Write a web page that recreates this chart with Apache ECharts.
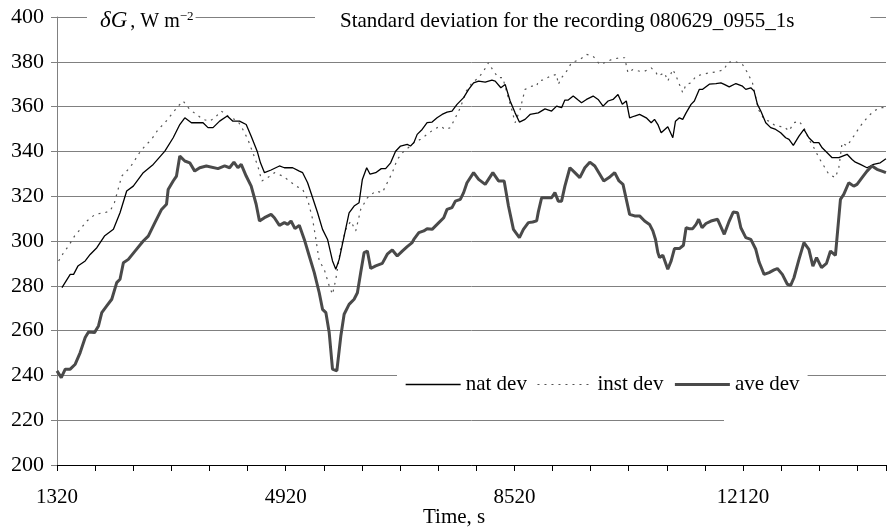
<!DOCTYPE html>
<html><head><meta charset="utf-8">
<script src="https://cdn.jsdelivr.net/npm/echarts@6/dist/echarts.min.js"></script>
<style>html,body{margin:0;padding:0;background:#fff}#c{width:889px;height:528px}</style>
</head><body><div id="c"></div>
<script>
var xTickLabels = [1320, 4920, 8520, 12120];
var yTicks = [200,220,240,260,280,300,320,340,360,380,400];
var seriesNames = ['nat dev', 'inst dev', 'ave dev'];

var natT = [1398,1528,1581,1649,1764,1842,1947,2067,2208,2312,2417,2521,2678,2835,3018,3149,3253,
3332,3436,3619,3697,3776,3880,4000,4089,4194,4298,4377,4471,4523,4586,4690,4821,4899,5030,5134,
5187,5265,5344,5422,5500,5579,5657,5709,5762,5840,5918,5997,6075,6127,6195,6248,6337,6425,6493,6572,6650,6728,6833,6885,
6937,6990,7068,7146,7225,7303,7382,7460,7538,7617,7721,7800,7878,7957,8061,8166,8218,8307,8375,8453,8531,8599,8688,8767,8897,
9002,9106,9185,9263,9315,9368,9446,9524,9577,9655,9760,9838,9916,9995,10073,10151,10219,10282,10334,10413,10491,10596,10674,10726,10779,
10831,10935,11014,11056,11118,11170,11223,11301,11353,11432,11484,11589,11693,11771,11824,11902,12007,12111,12163,12242,12294,12346,12399,12477,12555,
12634,12712,12791,12843,12911,13000,13078,13156,13235,13313,13365,13444,13522,13627,13757,13836,13888,13966,14071,14175,14280,14369];
var natV = [279.2,285.1,285.1,288.8,291.1,294.0,297.0,302.2,305.2,312.6,322.3,324.5,330.5,334.2,340.1,346.1,352.0,
355.0,352.8,352.8,350.6,350.6,353.5,355.8,353.5,353.5,352.0,346.8,340.1,334.9,330.5,331.7,333.5,332.7,332.7,331.2,
330.5,326.0,319.3,312.6,305.2,300.7,291.1,287.4,291.8,302.2,312.6,315.6,317.1,327.5,332.7,329.8,330.5,332.3,332.3,334.9,340.1,342.4,343.1,342.4,
343.9,347.6,349.8,352.8,353.1,355.0,356.5,357.5,358.0,361.0,364.0,367.7,370.6,371.4,370.9,371.8,371.4,368.4,369.9,362.5,357.2,353.1,354.3,356.5,357.2,
359.0,358.0,360.2,359.5,362.9,362.9,364.7,362.9,361.7,363.2,364.7,363.2,360.2,362.5,363.2,365.4,361.0,362.5,355.0,355.8,356.5,355.0,352.8,354.3,352.0,
348.3,351.0,346.1,353.5,355.0,354.3,357.2,361.0,362.5,367.7,367.7,370.0,370.3,370.6,369.9,368.8,370.3,369.1,367.7,368.4,366.9,361.0,358.0,352.8,350.6,
349.8,348.3,346.1,345.4,342.7,346.8,349.8,346.1,343.9,343.9,341.6,339.4,337.2,337.2,338.7,336.4,335.2,334.2,332.7,334.2,334.9,336.7];

var instT = [1346,1424,1502,1596,1685,1790,1920,2067,2156,2224,2260,2339,2443,2521,2600,2704,2809,2913,3018,3122,3227,
3305,3410,3514,3619,3723,3802,3906,4011,4168,4246,4324,4403,4481,4544,4638,4743,4873,4978,5082,
5187,5265,5344,5396,5448,5526,5605,5657,5709,5788,5866,5945,6023,6101,6206,6337,6441,6519,6598,6676,6781,6885,
6937,7042,7146,7251,7356,7434,7512,7591,7669,7763,7852,7957,8035,8113,8192,8270,8338,8401,8479,8531,8610,8688,8793,8871,
8897,9002,9080,9185,9211,9263,9342,9420,9550,9655,9760,9864,9942,10047,10178,10256,10308,10387,10491,10570,10674,10752,
10779,10883,10935,11014,11066,11118,11170,11223,11301,11380,11484,11589,11719,11824,11876,11981,12111,12190,12268,12362,12451,12529,12634,
12764,12843,12921,13000,13078,13156,13235,13313,13392,13470,13574,13627,13679,13757,13862,13966,14071,14175,14280,14369];
var instV = [291.1,294.8,297.8,302.2,305.2,308.9,311.9,312.6,313.4,317.1,320.8,329.0,332.0,334.9,338.7,342.4,345.4,349.8,352.8,356.5,360.2,
362.5,358.7,356.5,354.3,353.5,355.0,358.0,355.8,353.5,349.8,345.4,339.4,333.5,326.8,328.3,330.5,329.0,326.8,324.5,
323.0,318.6,309.7,300.7,291.1,287.4,280.0,276.2,282.9,297.0,305.2,308.9,304.5,314.1,319.3,322.3,321.6,326.0,330.5,336.4,340.1,342.4,
343.9,345.4,347.6,349.8,351.3,349.8,350.6,355.0,359.5,366.9,370.6,372.9,375.8,379.6,375.8,372.9,372.9,366.2,358.7,352.8,358.7,367.7,369.1,369.1,
371.4,372.1,373.6,374.4,369.9,372.9,375.8,379.6,381.0,383.3,382.5,378.8,379.6,381.0,381.8,381.8,375.1,376.6,375.8,375.8,377.3,375.1,
373.6,375.1,371.4,376.6,373.6,369.9,366.2,369.9,370.6,373.6,374.4,375.1,375.6,376.6,379.6,380.3,378.8,375.1,370.6,358.7,354.3,353.5,351.3,
351.0,349.1,352.8,353.5,350.6,345.4,341.6,337.2,333.5,329.8,328.3,332.7,343.9,342.4,346.8,351.3,355.0,358.0,359.5,359.5];

var aveT = [1320,1387,1450,1528,1607,1685,1764,1816,1910,1973,2025,2103,2182,2260,2312,2365,2443,2548,2678,2757,2861,2966,3044,3070,3149,3201,3253,
3332,3410,3488,3567,3671,3854,3959,4037,4105,4168,4220,4298,4377,4455,4507,4586,4690,4742,4821,4899,4951,5004,5066,5134,
5213,5291,5370,5448,5500,5553,5605,5657,5725,5788,5840,5918,5997,6049,6101,6154,6206,6258,6337,6441,6519,6598,6676,6755,6833,6911,
6937,7016,7094,7146,7225,7303,7408,7460,7538,7591,7669,7721,7774,7878,7957,8061,8181,8270,8359,8427,8505,8599,8662,8740,8808,8871,8897,
8949,9028,9106,9158,9211,9263,9315,9394,9472,9550,9629,9707,9786,9864,9927,10010,10099,10167,10230,10282,10334,10413,10491,10570,10648,10700,10742,10779,
10805,10857,10935,10988,11040,11118,11181,11223,11275,11327,11380,11421,11474,11536,11615,11719,11824,11902,11965,12033,12085,12163,12242,12320,12372,12451,12529,12608,12660,
12738,12817,12869,12921,13000,13078,13156,13219,13277,13355,13433,13496,13574,13653,13705,13784,13862,13914,13993,14071,14149,14228,14306,14369];
var aveV = [242.0,239.0,242.8,242.8,245.0,250.2,256.9,259.4,259.1,262.1,268.0,271.0,274.0,281.4,282.9,290.3,291.8,295.5,300.0,302.2,308.2,314.1,316.4,323.0,326.8,329.0,337.9,
335.7,334.9,331.2,332.7,333.5,332.3,333.5,332.7,335.2,332.7,334.2,329.0,324.5,316.4,308.9,310.4,311.9,310.4,307.0,308.2,307.4,308.9,305.5,307.0,
300.7,293.3,285.9,276.9,269.5,268.0,259.1,242.8,242.0,257.6,267.3,271.7,274.0,276.9,285.9,294.8,295.5,287.7,288.9,290.0,294.1,296.0,293.3,295.5,297.5,299.3,
300.7,303.7,304.5,305.5,305.2,307.4,310.4,314.1,314.9,317.8,318.6,321.6,326.0,330.5,327.5,325.3,330.5,326.8,326.8,315.6,305.2,301.5,305.2,308.2,308.5,309.0,313.0,
319.3,319.3,319.3,321.6,317.8,317.8,324.5,332.7,330.5,328.3,332.7,335.2,333.5,329.8,326.8,328.3,330.5,326.8,325.3,318.6,311.9,311.2,311.2,308.9,307.4,304.5,300.7,294.8,
292.6,293.6,287.4,291.1,296.6,296.6,298.1,305.9,305.5,305.5,307.4,309.7,305.9,307.8,308.9,309.7,303.0,308.9,312.9,312.6,305.9,301.5,300.7,296.3,290.6,285.1,285.9,287.1,287.7,
285.1,280.7,280.2,283.6,291.8,299.3,296.3,288.8,292.6,288.1,290.0,295.5,293.6,318.6,320.8,326.0,324.5,325.3,328.3,331.2,333.5,332.0,331.2,330.5];

function pairs(t, v) { return t.map(function (x, i) { return [x, v[i]]; }); }

var FONT = 'Liberation Serif';
var natStyle = {color: '#000', width: 1.3};
var instStyle = {color: '#555', width: 1.2, type: [2, 5]};
var aveStyle = {color: '#4a4a4a', width: 3};

var chart = echarts.init(document.getElementById('c'), null, {renderer: 'canvas'});
chart.setOption({
  animation: false,
  backgroundColor: '#fff',
  title: [
    {
      text: 'Standard deviation for the recording 080629_0955_1s',
      left: 315, top: 8,
      padding: [2, 76, 2, 25],
      backgroundColor: '#fff',
      textStyle: {fontFamily: FONT, fontSize: 21, fontWeight: 'normal', color: '#000', lineHeight: 22}
    },
    {
      text: '{i|δG}{n|, W m}{s|−2}',
      left: 87, top: 8,
      padding: [2, 2, 2, 13],
      backgroundColor: '#fff',
      textStyle: {
        fontWeight: 'normal',
        rich: {
          i: {fontFamily: FONT, fontStyle: 'italic', fontWeight: 'normal', fontSize: 23, color: '#000', lineHeight: 22, verticalAlign: 'bottom', padding: [0, 3, 0, 0]},
          n: {fontFamily: FONT, fontWeight: 'normal', fontSize: 20, color: '#000', lineHeight: 22, verticalAlign: 'bottom'},
          s: {fontFamily: FONT, fontWeight: 'normal', fontSize: 13, color: '#000', lineHeight: 12, verticalAlign: 'top', padding: [0, 0, 8, 0]}
        }
      }
    },
    {
      text: 'Time, s',
      left: 423, top: 507,
      padding: 0,
      textStyle: {fontFamily: FONT, fontSize: 21, fontWeight: 'normal', color: '#000'}
    }
  ],
  legend: {
    data: [
      {name: seriesNames[0], lineStyle: natStyle},
      {name: seriesNames[1], lineStyle: instStyle},
      {name: seriesNames[2], lineStyle: aveStyle}
    ],
    left: 397, top: 371,
    padding: [3, 8, 3, 8],
    backgroundColor: '#fff',
    itemWidth: 55, itemHeight: 14, itemGap: 10,
    itemStyle: {opacity: 0, color: 'rgba(0,0,0,0)', borderWidth: 0},
    textStyle: {fontFamily: FONT, fontSize: 21, color: '#000', lineHeight: 20}
  },
  grid: {left: 57, right: 0, top: 17, bottom: 63, containLabel: false},
  xAxis: {
    type: 'value', min: 1320, max: 14370, interval: 600,
    axisLine: {show: true, lineStyle: {color: '#000', width: 1}},
    axisTick: {show: true, inside: false, length: 6, lineStyle: {color: '#000'}},
    axisLabel: {
      fontFamily: FONT, fontSize: 21, color: '#000', margin: 22,
      formatter: function (v) { return xTickLabels.indexOf(v) >= 0 ? String(v) : ''; }
    },
    splitLine: {show: false}
  },
  yAxis: {
    type: 'value', min: yTicks[0], max: yTicks[yTicks.length - 1], interval: 20,
    axisLine: {show: true, lineStyle: {color: '#808080', width: 1}},
    axisTick: {show: true, inside: false, length: 6, lineStyle: {color: '#808080'}},
    axisLabel: {fontFamily: FONT, fontSize: 22, color: '#000', margin: 13},
    splitLine: {show: true, lineStyle: {color: '#808080', width: 1}}
  },
  graphic: [
    {type: 'rect', z: 50, shape: {x: 724, y: 418, width: 170, height: 5}, style: {fill: '#fff'}}
  ],
  series: [
    {name: seriesNames[0], type: 'line', data: pairs(natT, natV), symbol: 'none', z: 3,
     lineStyle: natStyle, itemStyle: {color: natStyle.color}},
    {name: seriesNames[1], type: 'line', data: pairs(instT, instV), symbol: 'none', z: 2,
     lineStyle: instStyle, itemStyle: {color: instStyle.color}},
    {name: seriesNames[2], type: 'line', data: pairs(aveT, aveV), symbol: 'none', z: 4,
     lineStyle: aveStyle, itemStyle: {color: aveStyle.color}}
  ]
});
</script></body></html>
